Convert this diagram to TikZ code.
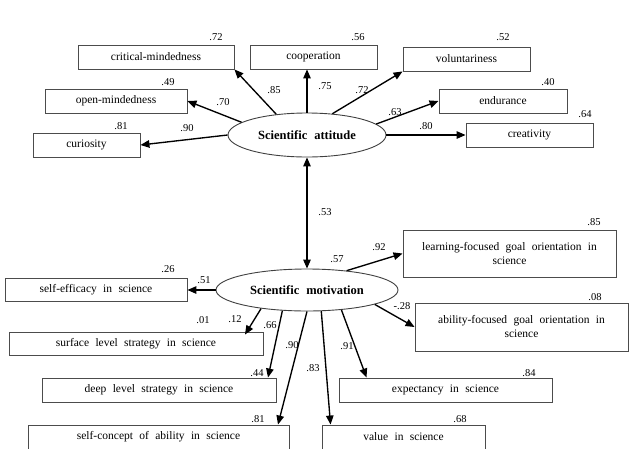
\documentclass[tikz,border=0pt]{standalone}
\usepackage{fontspec}
\setmainfont{Liberation Serif}
\usetikzlibrary{arrows.meta,shapes.geometric}
% wider gaps between words inside the boxes
\newcommand\widegaps{\spaceskip=0.55em plus 0.1em\relax}

\begin{document}
\begin{tikzpicture}[x=1pt,y=-1pt,
  box/.style={draw=black!70, line width=0.9pt, inner sep=0pt, align=center,
    font=\fontsize{11.5}{14}\selectfont, execute at begin node=\widegaps},
  latent/.style={ellipse, draw=black!75, line width=0.9pt, inner sep=0pt,
    font=\fontsize{12.5}{14}\selectfont\bfseries, execute at begin node=\widegaps},
  coef/.style={font=\fontsize{10.5}{12}\selectfont, inner sep=0pt},
  tip/.tip={Triangle[length=9pt,width=7.5pt]},
  arr/.style={line width=1.35pt, -tip},
  darr/.style={line width=1.35pt, tip-tip}
]
\useasboundingbox (0,0) rectangle (633,448);
\clip (0,0) rectangle (633,448);

% latent variables
\node[latent, minimum width=158, minimum height=44] (att) at (307,135) {Scientific attitude};
\node[latent, minimum width=182, minimum height=42] (mot) at (307,290) {Scientific motivation};

% indicators of scientific attitude
\node[box, minimum width=156, minimum height=24] (crit)  at (156,57)    {critical-mindedness};
\node[box, minimum width=142, minimum height=24] (open)  at (116,101)   {open-mindedness};
\node[box, minimum width=107, minimum height=24] (curio) at (86.5,145)  {curiosity};
\node[box, minimum width=127, minimum height=24] (coop)  at (313.5,57)  {cooperation};
\node[box, minimum width=127, minimum height=24] (volun) at (466.5,59)  {voluntariness};
\node[box, minimum width=128, minimum height=24] (endur) at (503,101)   {endurance};
\node[box, minimum width=127, minimum height=24] (creat) at (529.5,135) {creativity};

% indicators of scientific motivation
\node[box, minimum width=182, minimum height=23] (selfeff) at (96,289.5)  {self-efficacy in science};
\node[box, minimum width=254, minimum height=23] (surface) at (136,343.5) {surface level strategy in science};
\node[box, minimum width=213, minimum height=47] (learn)   at (509.5,253.5) {learning-focused goal orientation in\\science};
\node[box, minimum width=213, minimum height=48] (ability) at (521.5,327)  {ability-focused goal orientation in\\science};
\node[box, minimum width=234, minimum height=24] (deep)    at (159,390)   {deep level strategy in science};
\node[box, minimum width=261, minimum height=24] (selfcon) at (158.5,437) {self-concept of ability in science};
\node[box, minimum width=213, minimum height=24] (expect)  at (445.5,390) {expectancy in science};
\node[box, minimum width=163, minimum height=24] (value)   at (403.5,437) {value in science};

% paths from scientific attitude
\draw[arr] (att.146) -- (crit.south east);
\draw[arr] (att.169) -- (open.east);
\draw[arr] (att.west) -- (curio.east);
\draw[arr] (att.north) -- (att.north |- coop.south);
\draw[arr] (att.40) -- (volun.south west);
\draw[arr] (att.9) -- (endur.west);
\draw[arr] (att.east) -- (creat.west);

% correlation between the latent variables
\draw[darr] (att.south) -- (mot.north);

% paths from scientific motivation
\draw[arr] (mot.west) -- (mot.west -| selfeff.east);
\draw[arr] (mot.202) -- ([xshift=109pt,yshift=-3pt]surface.north);
\draw[arr] (mot.220) -- ([xshift=109pt]deep.north);
\draw[arr] (mot.south) -- ([xshift=119.5pt]selfcon.north);
\draw[arr] (mot.304) -- ([xshift=9pt]value.north west);
\draw[arr] (mot.330) -- ([xshift=28pt]expect.north west);
\draw[arr] (mot.26) -- (learn.west);
\draw[arr] (mot.348) -- (ability.west);

% coefficients, attitude side
\node[coef] (c1)  at (216,37)  {.72};
\node[coef] (c2)  at (168,82)  {.49};
\node[coef] (c3)  at (121,126) {.81};
\node[coef] (c4)  at (358,37)  {.56};
\node[coef] (c5)  at (503,37)  {.52};
\node[coef] (c6)  at (548,82)  {.40};
\node[coef] (c7)  at (585,114) {.64};
\node[coef] (c8)  at (274,90)  {.85};
\node[coef] (c9)  at (223,102) {.70};
\node[coef] (c10) at (187,128) {.90};
\node[coef] (c11) at (325,86)  {.75};
\node[coef] (c12) at (362,90)  {.72};
\node[coef] (c13) at (395,112) {.63};
\node[coef] (c14) at (426,126) {.80};
\node[coef] (c15) at (325,212) {.53};

% coefficients, motivation side
\node[coef] (d1)  at (168,269) {.26};
\node[coef] (d2)  at (204,280) {.51};
\node[coef] (d3)  at (203,320) {.01};
\node[coef] (d4)  at (235,319) {.12};
\node[coef] (d5)  at (270,325) {.66};
\node[coef] (d6)  at (292,345) {.90};
\node[coef] (d7)  at (313,368) {.83};
\node[coef] (d8)  at (347,346) {.91};
\node[coef] (d9)  at (337,259) {.57};
\node[coef] (d10) at (379,247) {.92};
\node[coef] (d11) at (402,306) {-.28};
\node[coef] (d12) at (594,222) {.85};
\node[coef] (d13) at (595,297) {.08};
\node[coef] (d14) at (257,373) {.44};
\node[coef] (d15) at (258,419) {.81};
\node[coef] (d16) at (529,373) {.84};
\node[coef] (d17) at (460,419) {.68};
\end{tikzpicture}
\end{document}
